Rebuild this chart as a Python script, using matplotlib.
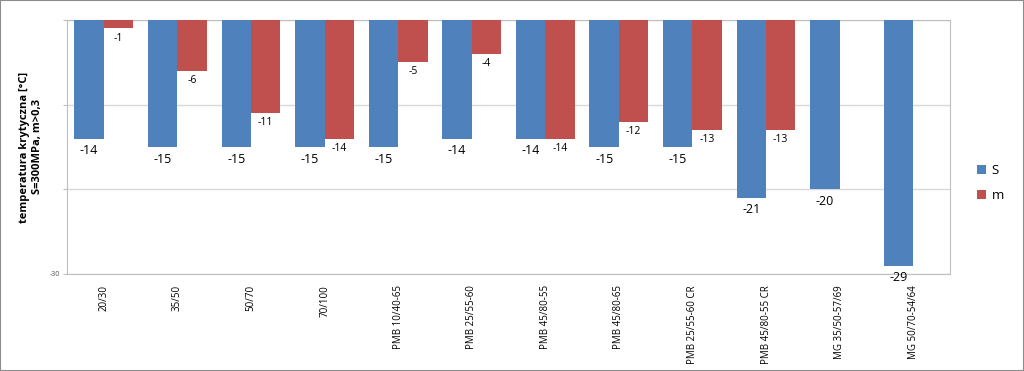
import numpy as np
import matplotlib.pyplot as plt

plt.rcParams['font.family'] = ['Open Sans', 'DejaVu Sans']

categories = ['20/30', '35/50', '50/70', '70/100', 'PMB 10/40-65', 'PMB 25/55-60',
              'PMB 45/80-55', 'PMB 45/80-65', 'PMB 25/55-60 CR', 'PMB 45/80-55 CR',
              'MG 35/50-57/69', 'MG 50/70-54/64']
s_vals = [-14, -15, -15, -15, -15, -14, -14, -15, -15, -21, -20, -29]
m_vals = [-1, -6, -11, -14, -5, -4, -14, -12, -13, -13, None, None]

blue = '#4F81BD'
red = '#C0504D'

fig = plt.figure(figsize=(10.24, 3.71), dpi=100)
ax = fig.add_axes([67 / 1024, 1 - 274 / 371, 883 / 1024, 254 / 371])

x = np.arange(len(categories))
w = 0.4
ax.bar(x - w / 2, s_vals, w, color=blue, label='S', zorder=3)
m_x = [xi + w / 2 for xi, v in zip(x, m_vals) if v is not None]
m_y = [v for v in m_vals if v is not None]
ax.bar(m_x, m_y, w, color=red, label='m', zorder=3)

# data labels under the bar ends, like Excel
for xi, v in zip(x, s_vals):
    ax.annotate(str(v), (xi - w / 2, v), xytext=(0, -4), textcoords='offset points',
                ha='center', va='top', fontsize=9, annotation_clip=False)
for xi, v in zip(m_x, m_y):
    ax.annotate(str(v), (xi, v), xytext=(0, -3), textcoords='offset points',
                ha='center', va='top', fontsize=7.5, annotation_clip=False)

ax.set_xlim(-0.5, len(categories) - 0.5)
ax.set_ylim(-30, 0)
ax.set_yticks([-30, -20, -10, 0])
ax.set_yticklabels(['-30', '', '', ''], fontsize=5, color='#555555')
ax.yaxis.grid(True, color='#d9d9d9', linewidth=1, zorder=0)
ax.set_xticks(x)
ax.set_xticklabels(categories, rotation=90, fontsize=7)
ax.tick_params(axis='x', length=0, pad=8)
ax.tick_params(axis='y', length=3, color='#bfbfbf', pad=2)
for sp in ax.spines.values():
    sp.set_color('#bfbfbf')

fig.text(31 / 1024, 1 - 147 / 371, 'temperatura krytyczna [°C]\nS=300MPa, m>0,3',
         rotation=90, ha='center', va='center', fontsize=8, fontweight='bold',
         multialignment='center')

fig.legend(loc='center left', bbox_to_anchor=(965 / 1024, 1 - 183 / 371), frameon=False,
           fontsize=9.5, handlelength=0.7, handleheight=0.7, handletextpad=0.4,
           labelspacing=0.9)

# thin outer border like the screenshot
fig.patches.append(plt.Rectangle((0, 0), 1, 1, transform=fig.transFigure, fill=False,
                                 edgecolor='#8c8c8c', linewidth=1.5))

fig.savefig('out.png', dpi=100)
